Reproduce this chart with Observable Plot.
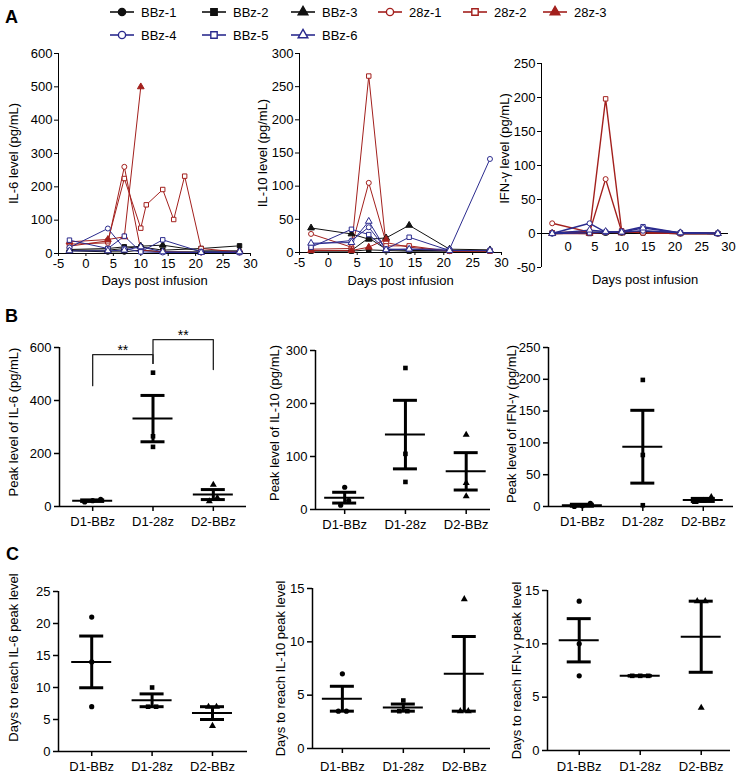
<!DOCTYPE html>
<html><head><meta charset="utf-8">
<script src="https://cdn.jsdelivr.net/npm/d3@7"></script>
<script src="https://cdn.jsdelivr.net/npm/@observablehq/plot@0.6"></script>
<style>
body{margin:0;background:#fff;}
#fig{position:relative;width:739px;height:780px;font-family:"Liberation Sans",Arial,Helvetica,sans-serif;color:#000;overflow:hidden;background:#fff;}
.panel{position:absolute;}
.tag{position:absolute;font-weight:bold;font-size:18px;line-height:18px;}
#legend{position:absolute;left:110px;top:3px;display:grid;grid-template-columns:92px 89px 87px 85px 80px 90px;row-gap:5px;font-size:13px;}
.item{display:flex;align-items:center;height:18px;white-space:nowrap;}
.item svg{margin-right:7px;overflow:visible;}
</style></head>
<body><div id="fig"></div>
<script>
// ---------- data ----------
const seriesNames = ["BBz-1","BBz-2","BBz-3","28z-1","28z-2","28z-3","BBz-4","BBz-5","BBz-6"];
const seriesColors = ["#111111","#111111","#111111","#a3201d","#a3201d","#a3201d","#2b2b8e","#2b2b8e","#2b2b8e"];
const seriesSymbols = ["circle","square","triangle","circle","square","triangle","circle","square","triangle"];
const seriesFilled = [true,true,true,false,false,true,false,false,false];

const days = [-3, 4, 7, 10, 14, 21, 28];
const daysShort = [-3, 4, 7, 10];
const days28z2IL6 = [-3, 4, 7, 10, 11, 14, 16, 18, 21, 28];

const il6Days = [days, days, days, days, days28z2IL6, daysShort, days, days, days];
const il6Values = [
  [8, 5, 5, 10, 5, 5, 5],
  [12, 15, 20, 20, 10, 15, 23],
  [10, 10, 15, 22, 25, 8, 8],
  [28, 32, 260, 10, 5, 3, 3],
  [22, 38, 225, 76, 146, 192, 102, 232, 15, 4],
  [35, 42, 50, 500],
  [18, 75, 15, 5, 3, 3, 3],
  [40, 15, 52, 5, 41, 5, 3],
  [8, 8, 10, 20, 5, 3, 5]
];

const il10Days = [days, days, days, days, days, daysShort, days, days, days];
const il10Values = [
  [3, 3, 22, 5, 3, 3, 3],
  [2, 2, 4, 3, 2, 2, 2],
  [37, 28, 20, 22, 41, 5, 4],
  [28, 8, 105, 15, 8, 2, 3],
  [5, 6, 266, 10, 10, 2, 2],
  [3, 3, 8, 20],
  [12, 18, 38, 5, 5, 5, 141],
  [8, 35, 27, 5, 23, 3, 3],
  [14, 15, 47, 4, 5, 3, 3]
];

const ifnDays = [days, days, days, days, days, daysShort, days, days, days];
const ifnValues = [
  [0, 1, 1, 1, 2, 0, 0],
  [1, 0, 1, 2, 1, 0, 0],
  [0, 2, 2, 1, 3, 1, 0],
  [15, 2, 80, 3, 1, 0, 0],
  [1, 3, 198, 4, 1, 0, 0],
  [0, 0, 2, 1],
  [0, 15, 2, 2, 4, 1, 0],
  [0, 1, 2, 3, 10, 1, 0],
  [0, 5, 3, 2, 8, 1, 0]
];

const groups = ["D1-BBz", "D1-28z", "D2-BBz"];
const groupSymbols = ["circle", "square", "triangle"];

const il6Peak = [[27, 22, 17], [505, 265, 225], [82, 33, 20]];
const il10Peak = [[42, 17, 8], [267, 105, 52], [141, 50, 25]];
const ifnPeak = [[5, 1, 0], [199, 81, 2], [15, 9, 7]];
const il6DaysToPeak = [[21, 14, 7], [10, 7, 7], [7, 7, 4]];
const il10DaysToPeak = [[7, 3.5, 3.5], [4.5, 3.5, 3.5], [14, 3.5, 3.5]];
const ifnDaysToPeak = [[14, 10, 7], [7, 7, 7], [14, 14, 4]];

// significance annotations for IL-6 peak panel
const il6Sig = [
  {from: 0, to: 1, top: 573, leftEnd: 456, rightEnd: 540, label: "**"},
  {from: 1, to: 2, top: 630, leftEnd: 540, rightEnd: 517, label: "**"}
];

const dayTicks = [-5, 0, 5, 10, 15, 20, 25, 30];
const dayTicksIfn = [0, 5, 10, 15, 20, 25, 30];

// ---------- layout helpers ----------
const FONT = '"Liberation Sans", Arial, Helvetica, sans-serif';
const fig = document.getElementById("fig");
function place(node, left, top) {
  const wrap = document.createElement("div");
  wrap.className = "panel";
  wrap.style.left = left + "px";
  wrap.style.top = top + "px";
  wrap.appendChild(node);
  fig.appendChild(wrap);
}
function tag(letter, left, top) {
  const d = document.createElement("div");
  d.className = "tag"; d.textContent = letter;
  d.style.left = left + "px"; d.style.top = top + "px";
  fig.appendChild(d);
}
const symbolMap = {circle: d3.symbolCircle, square: d3.symbolSquare, triangle: d3.symbolTriangle};

// ---------- legend ----------
const legend = d3.select(fig).append("div").attr("id", "legend");
seriesNames.forEach((s, k) => {
  const item = legend.append("div").attr("class", "item");
  const svg = item.append("svg").attr("width", 24).attr("height", 14);
  svg.append("line").attr("x1", 0).attr("x2", 24).attr("y1", 7).attr("y2", 7)
    .attr("stroke", seriesColors[k]).attr("stroke-width", 1.6);
  svg.append("path").attr("transform", "translate(12,7)")
    .attr("d", d3.symbol(symbolMap[seriesSymbols[k]], Math.PI * 3.6 * 3.6)())
    .attr("fill", seriesFilled[k] ? seriesColors[k] : "#fff")
    .attr("stroke", seriesColors[k]).attr("stroke-width", 1.4);
  item.append("span").text(s);
});

// ---------- panel A: time courses ----------
function linePanel(cfg) {
  const marks = [
    Plot.ruleY([0], {strokeWidth: 1}),
    Plot.ruleX([cfg.xDomain[0]], {strokeWidth: 1}),
    Plot.axisY({ticks: cfg.yTicks, tickSize: 4, tickPadding: 2, tickFormat: d => String(d), label: null, fontSize: 13})
  ];
  if (cfg.zeroAxis) {
    marks.push(Plot.text(cfg.xTicks, {x: d => d, y: () => 0, text: d => String(d), dy: 13, fontSize: 13}));
  } else {
    marks.push(Plot.axisX({ticks: cfg.xTicks, tickSize: 3, tickPadding: 2, tickFormat: d => String(d), label: null, fontSize: 13}));
  }
  seriesNames.forEach((s, k) => {
    const rows = cfg.days[k].map((d, j) => ({day: d, v: cfg.values[k][j]}));
    marks.push(Plot.line(rows, {x: "day", y: "v", stroke: seriesColors[k], strokeWidth: cfg.lw}));
  });
  seriesNames.forEach((s, k) => {
    const rows = cfg.days[k].map((d, j) => ({day: d, v: cfg.values[k][j]}));
    marks.push(Plot.dot(rows, {x: "day", y: "v", symbol: seriesSymbols[k], r: 2.5,
      fill: seriesFilled[k] ? seriesColors[k] : "#fff", stroke: seriesColors[k], strokeWidth: 1}));
  });
  marks.push(Plot.text([cfg.ylabel], {text: d => d, frameAnchor: "left", textAnchor: "middle", rotate: -90, dx: cfg.ylDx, dy: cfg.ylDy || 0, fontSize: 13}));
  marks.push(Plot.text(["Days post infusion"], {text: d => d, frameAnchor: "bottom", textAnchor: "middle", dx: cfg.xlDx || 0, dy: cfg.xlDy, fontSize: 13}));
  const p = Plot.plot({
    width: cfg.width, height: cfg.height,
    marginLeft: cfg.ml, marginRight: cfg.mr, marginTop: cfg.mt, marginBottom: cfg.mb,
    x: Object.assign({domain: cfg.xDomain, label: null}, cfg.zeroAxis ? {axis: null} : {}),
    y: {domain: cfg.yDomain, label: null},
    style: {fontFamily: FONT, fontSize: "13px", color: "#000", background: "none", overflow: "visible"},
    marks
  });
  place(p, cfg.left, cfg.top);
}

linePanel({left: 0, top: 40, width: 260, height: 255, ml: 58, mr: 10, mt: 13, mb: 42,
  xDomain: [-5, 30], yDomain: [0, 600], xTicks: dayTicks, yTicks: d3.range(0, 601, 100),
  days: il6Days, values: il6Values, lw: 1, ylabel: "IL-6 level (pg/mL)", ylDx: -45, xlDy: 31});
linePanel({left: 260, top: 40, width: 250, height: 255, ml: 39, mr: 9, mt: 13, mb: 43,
  xDomain: [-5, 30], yDomain: [0, 300], xTicks: dayTicks, yTicks: d3.range(0, 301, 50),
  days: il10Days, values: il10Values, lw: 1, ylabel: "IL-10 level (pg/mL)", ylDx: -37, xlDy: 32});
linePanel({left: 510, top: 40, width: 229, height: 255, ml: 31, mr: 11, mt: 23, mb: 28,
  xDomain: [-5, 30], yDomain: [-50, 250], xTicks: dayTicksIfn, yTicks: d3.range(-50, 251, 50), zeroAxis: true,
  days: ifnDays, values: ifnValues, lw: 1.4, ylabel: "IFN-\u03b3 level (pg/mL)", ylDx: -37, ylDy: -17, xlDy: 16, xlDx: 10});

// ---------- panels B & C: scatter with mean ± SEM ----------
function spread(vals, pxY, pxX) {
  const idx = d3.range(vals.length).sort((a, b) => vals[a] - vals[b]);
  const offs = new Array(vals.length).fill(0);
  let cluster = [idx[0]];
  const flush = () => { const n = cluster.length; cluster.forEach((k, j) => offs[k] = (j - (n - 1) / 2) * 8 / pxX); };
  for (let t = 1; t < idx.length; t++) {
    if ((vals[idx[t]] - vals[idx[t - 1]]) * pxY < 5) cluster.push(idx[t]);
    else { flush(); cluster = [idx[t]]; }
  }
  flush();
  return offs;
}

function statPanel(cfg) {
  const fw = cfg.width - cfg.ml - cfg.mr, fh = cfg.height - cfg.mt - cfg.mb;
  const pxX = fw / (cfg.xDomain[1] - cfg.xDomain[0]);
  const pxY = fh / (cfg.yDomain[1] - cfg.yDomain[0]);
  const stats = cfg.values.map((v, g) => {
    const m = d3.mean(v), se = d3.deviation(v) / Math.sqrt(v.length);
    return {i: g, mean: m, lo: m - se, hi: m + se};
  });
  const meanHalf = 20 / pxX, capHalf = 12 / pxX;
  const marks = [
    Plot.ruleY([cfg.yDomain[0]], {strokeWidth: 1.5}),
    Plot.ruleX([cfg.xDomain[0]], {strokeWidth: 1.5}),
    Plot.axisY({ticks: cfg.yTicks, tickSize: 5, tickPadding: 3, tickFormat: d => String(d), label: null, strokeWidth: 1.5, fontSize: 13}),
    Plot.axisX({ticks: [0, 1, 2], tickSize: 5, tickPadding: cfg.xPad, tickFormat: i => groups[i], label: null, strokeWidth: 1.5, fontSize: 13}),
    Plot.ruleX(stats, {x: "i", y1: "lo", y2: "hi", strokeWidth: 3}),
    Plot.ruleY(stats, {y: "mean", x1: d => d.i - meanHalf, x2: d => d.i + meanHalf, strokeWidth: 2}),
    Plot.ruleY(stats, {y: "hi", x1: d => d.i - capHalf, x2: d => d.i + capHalf, strokeWidth: 3}),
    Plot.ruleY(stats, {y: "lo", x1: d => d.i - capHalf, x2: d => d.i + capHalf, strokeWidth: 3})
  ];
  cfg.values.forEach((v, g) => {
    const offs = spread(v, pxY, pxX);
    const pts = v.map((y, j) => ({x: g + offs[j], y}));
    marks.push(Plot.dot(pts, {x: "x", y: "y", symbol: groupSymbols[g], r: 2.6, fill: "#000", stroke: "none"}));
  });
  if (cfg.sig) {
    cfg.sig.forEach(b => {
      const pts = [{x: b.from, y: b.leftEnd}, {x: b.from, y: b.top}, {x: b.to, y: b.top}, {x: b.to, y: b.rightEnd}];
      marks.push(Plot.line(pts, {x: "x", y: "y", stroke: "#222", strokeWidth: 1.3}));
      marks.push(Plot.text([b], {x: d => (d.from + d.to) / 2, y: "top", text: "label", dy: -4, fontSize: 14}));
    });
  }
  marks.push(Plot.text([cfg.ylabel], {text: d => d, frameAnchor: "left", textAnchor: "middle", rotate: -90, dx: cfg.ylDx, dy: cfg.ylDy || 0, fontSize: 13}));
  const p = Plot.plot({
    width: cfg.width, height: cfg.height,
    marginLeft: cfg.ml, marginRight: cfg.mr, marginTop: cfg.mt, marginBottom: cfg.mb,
    x: {domain: cfg.xDomain, label: null},
    y: {domain: cfg.yDomain, label: null},
    style: {fontFamily: FONT, fontSize: "13px", color: "#000", background: "none", overflow: "visible"},
    marks
  });
  place(p, cfg.left, cfg.top);
}

statPanel({left: 0, top: 295, width: 260, height: 240, ml: 59, mr: 14, mt: 52, mb: 29, xPad: 5,
  xDomain: [-0.55, 2.55], yDomain: [0, 600], yTicks: [0, 200, 400, 600], values: il6Peak, sig: il6Sig,
  ylabel: "Peak level of IL-6 (pg/mL)", ylDx: -46, ylDy: -5});
statPanel({left: 260, top: 295, width: 240, height: 240, ml: 55, mr: 10, mt: 55, mb: 26, xPad: 5,
  xDomain: [-0.48, 2.4], yDomain: [0, 300], yTicks: [0, 100, 200, 300], values: il10Peak,
  ylabel: "Peak level of IL-10 (pg/mL)", ylDx: -41, ylDy: -7});
statPanel({left: 500, top: 295, width: 239, height: 240, ml: 48, mr: 6, mt: 52, mb: 29, xPad: 5,
  xDomain: [-0.56, 2.5], yDomain: [0, 250], yTicks: [0, 50, 100, 150, 200, 250], values: ifnPeak,
  ylabel: "Peak level of IFN-\u03b3 (pg/mL)", ylDx: -37, ylDy: -3});

statPanel({left: 0, top: 535, width: 260, height: 245, ml: 58, mr: 13, mt: 56, mb: 29, xPad: 5,
  xDomain: [-0.55, 2.58], yDomain: [0, 25], yTicks: [0, 5, 10, 15, 20, 25], values: il6DaysToPeak,
  ylabel: "Days to reach IL-6 peak level", ylDx: -45, ylDy: -14});
statPanel({left: 260, top: 535, width: 240, height: 245, ml: 52, mr: 10, mt: 53, mb: 32, xPad: 8,
  xDomain: [-0.49, 2.43], yDomain: [0, 15], yTicks: [0, 5, 10, 15], values: il10DaysToPeak,
  ylabel: "Days to reach IL-10 peak level", ylDx: -32});
statPanel({left: 500, top: 535, width: 239, height: 245, ml: 47, mr: 9, mt: 55, mb: 30, xPad: 6,
  xDomain: [-0.52, 2.48], yDomain: [0, 15], yTicks: [0, 5, 10, 15], values: ifnDaysToPeak,
  ylabel: "Days to reach IFN-\u03b3 peak level", ylDx: -31});

tag("A", 5, 8);
tag("B", 5, 307);
tag("C", 6, 545);
</script></body></html>
